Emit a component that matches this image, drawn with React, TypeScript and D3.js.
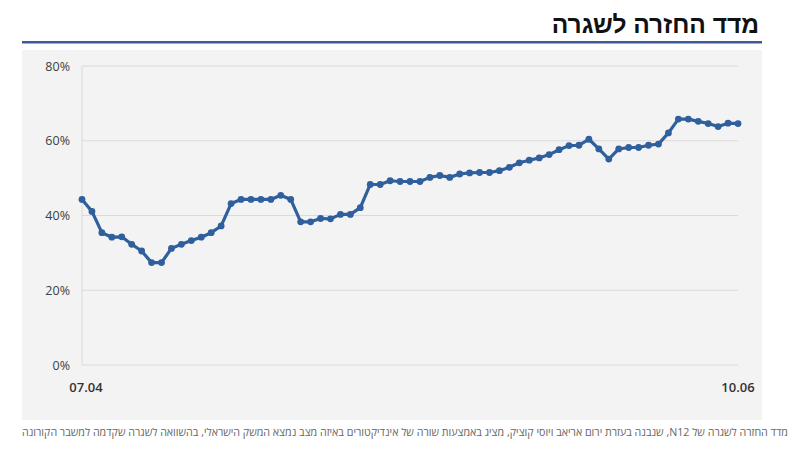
import React, { useEffect, useRef } from "react";
import * as d3 from "d3";

// index values, one per day
const values: number[] = [
  44.3, 41.1, 35.4, 34.2, 34.3, 32.3, 30.5, 27.4, 27.4, 31.2, 32.3, 33.3, 34.2, 35.4, 37.2, 43.2, 44.3,
  44.3, 44.3, 44.3, 45.4, 44.3, 38.3, 38.3, 39.2, 39.1, 40.3, 40.3, 42.1, 48.3, 48.3, 49.3, 49.1, 49.1,
  49.1, 50.2, 50.7, 50.2, 51.1, 51.4, 51.5, 51.5, 52.0, 52.9, 54.1, 54.8, 55.4, 56.3, 57.6, 58.7,
  58.8, 60.4, 57.8, 55.1, 57.8, 58.2, 58.2, 58.8, 59.1, 62.1, 65.8, 65.8, 65.2, 64.6, 63.8, 64.7, 64.6,
];
const yTicks: number[] = [0, 20, 40, 60, 80];
const xLabels: string[] = ["07.04", "10.06"];

const title = "מדד החזרה לשגרה";
const caption =
  "מדד החזרה לשגרה של N12, שנבנה בעזרת ירום אריאב ויוסי קוציק, מציג באמצעות שורה של אינדיקטורים באיזה מצב נמצא המשק הישראלי, בהשוואה לשגרה שקדמה למשבר הקורונה";

const W = 800;
const H = 454;
const BLUE = "#2f5f9c";

export default function App() {
  const svgRef = useRef<SVGSVGElement>(null);

  useEffect(() => {
    const svg = d3.select(svgRef.current);
    svg.selectAll("*").remove();

    const x = d3.scaleLinear().domain([0, values.length - 1]).range([82, 738]);
    const y = d3.scaleLinear().domain([0, 80]).range([365, 66]);

    // title + rule
    svg.append("text")
      .attr("x", 759).attr("y", 33)
      .attr("direction", "rtl").attr("text-anchor", "start")
      .attr("font-family", "Liberation Sans, Arial, sans-serif")
      .attr("font-weight", "bold").attr("font-size", 24.5).attr("fill", "#111")
      .text(title);
    svg.append("rect").attr("x", 22).attr("y", 41).attr("width", 740).attr("height", 2.5).attr("fill", "#3f5a99");

    // panel
    svg.append("rect").attr("x", 22).attr("y", 50).attr("width", 740).attr("height", 370).attr("fill", "#f3f3f3");

    const g = svg.append("g");

    g.selectAll("line.grid").data(yTicks).join("line")
      .attr("class", "grid")
      .attr("x1", 82).attr("x2", 738)
      .attr("y1", d => y(d)).attr("y2", d => y(d))
      .attr("stroke", "#dadada").attr("stroke-width", 1);

    g.append("line")
      .attr("x1", 82).attr("x2", 82).attr("y1", y(80)).attr("y2", y(0))
      .attr("stroke", "#dadada");

    g.selectAll("text.ytick").data(yTicks).join("text")
      .attr("class", "ytick")
      .attr("x", 70).attr("y", d => y(d) + 4.5)
      .attr("text-anchor", "end")
      .attr("font-family", "Open Sans, sans-serif").attr("font-size", 12.5).attr("fill", "#404040")
      .text(d => d + "%");

    g.selectAll("text.xtick").data(xLabels).join("text")
      .attr("class", "xtick")
      .attr("x", (d, i) => x(i === 0 ? 0 : values.length - 1) + (i === 0 ? 4 : 0))
      .attr("y", 392)
      .attr("text-anchor", "middle")
      .attr("font-family", "Open Sans, sans-serif").attr("font-size", 13).attr("font-weight", 600).attr("fill", "#333")
      .text(d => d);

    const line = d3.line<number>().x((d, i) => x(i)).y(d => y(d));
    g.append("path").datum(values)
      .attr("d", line)
      .attr("fill", "none").attr("stroke", BLUE).attr("stroke-width", 3.2).attr("stroke-linejoin", "round");

    g.selectAll("circle").data(values).join("circle")
      .attr("cx", (d, i) => x(i)).attr("cy", d => y(d)).attr("r", 3.4)
      .attr("fill", BLUE);

    svg.append("text")
      .attr("x", 788).attr("y", 436)
      .attr("direction", "rtl").attr("text-anchor", "start")
      .attr("font-family", "Open Sans, sans-serif").attr("font-size", 10.5).attr("fill", "#666")
      .attr("textLength", 766).attr("lengthAdjust", "spacingAndGlyphs")
      .text(caption);
  }, []);

  return (
    <svg
      ref={svgRef}
      width={W}
      height={H}
      style={{ position: "absolute", left: 0, top: 0, background: "#fff" }}
    />
  );
}
